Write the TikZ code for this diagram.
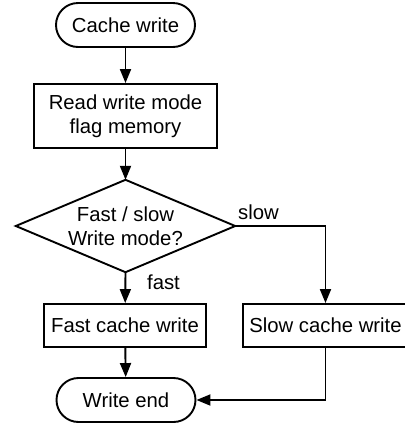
\documentclass[tikz,border=0pt]{standalone}
\usepackage{fontspec}
\setmainfont{Liberation Sans}
\usetikzlibrary{arrows.meta}

\begin{document}
\begin{tikzpicture}[x=1pt,y=-1pt,
  every node/.style={font=\fontsize{20.3}{24}\selectfont, inner sep=0pt, align=center},
  line/.style={line width=1.9pt},
  flow/.style={line, -{Triangle[length=14pt,width=11pt]}},
  terminal/.style={draw, line width=1.9pt, rounded corners=22pt, minimum width=139pt, minimum height=44pt},
  procbox/.style={draw, line width=1.9pt, rectangle}
]
\useasboundingbox (0,0) rectangle (405,424);

% start / end terminals
\node[terminal] (start) at (125.5,25) {Cache write};
\node[terminal] (stop) at (126,400) {Write end};

% process boxes
\node[procbox, minimum width=183pt, minimum height=64pt] (read) at (125.5,116)
  {Read write mode\\flag memory};
\node[procbox, minimum width=162pt, minimum height=43pt] (fast) at (125,325.5) {Fast cache write};
\node[procbox, minimum width=165pt, minimum height=43pt] (slow) at (325.5,325.5) {Slow cache write};

% decision: text node sized to the diamond, outline drawn through its anchors
\node[minimum width=219pt, minimum height=92pt] (dec) at (125.5,226) {Fast / slow\\Write mode?};
\draw[line, line join=miter] (dec.north) -- (dec.east) -- (dec.south) -- (dec.west) -- cycle;

% branch labels
\node (lslow) at (258.5,212) {slow};
\node (lfast) at (163.5,282) {fast};

% connectors
\draw[flow] (start) -- (read);
\draw[flow] (read) -- (dec.north);
\draw[flow] (dec.south) -- (fast);
\draw[flow] (dec.east) -| (slow.north);
\draw[flow] (fast) -- (stop);
\draw[flow] (slow.south) |- (stop.east);
\end{tikzpicture}
\end{document}
